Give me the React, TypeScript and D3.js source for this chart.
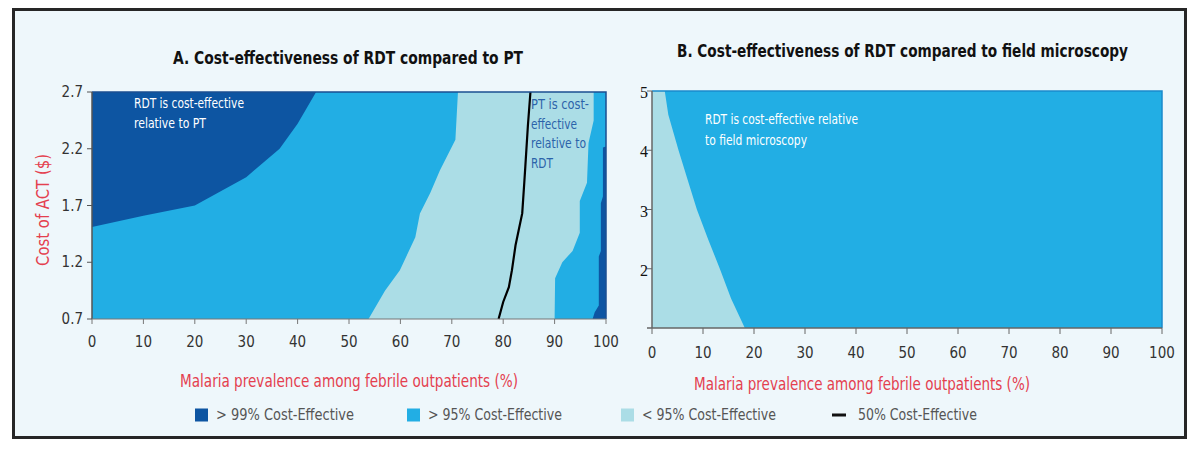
import React from 'react';
import * as d3 from 'd3';

// ---------- data ----------
const prevalenceTicks = [0, 10, 20, 30, 40, 50, 60, 70, 80, 90, 100];
const costTicksA = [0.7, 1.2, 1.7, 2.2, 2.7];
const costTicksB = [2, 3, 4, 5];
const costDomainA: [number, number] = [0.7, 2.7];
const costDomainB: [number, number] = [1, 5];

// Panel A region boundaries: [prevalence %, cost of ACT $]
const darkTopLeftEdge: [number, number][] = [
  [0, 1.51], [10, 1.61], [20, 1.7], [30, 1.95], [36.5, 2.2], [40, 2.42], [43.6, 2.7],
];
const lightLeftEdge: [number, number][] = [
  [53.8, 0.7], [57, 0.95], [59.9, 1.13], [62.9, 1.42], [63.8, 1.63], [65.8, 1.81],
  [67.7, 2.01], [70.7, 2.28], [71.2, 2.7],
];
const lightRightEdge: [number, number][] = [
  [90, 0.7], [90.1, 1.06], [91.5, 1.2], [93.5, 1.3], [94.9, 1.46], [94.9, 1.74],
  [96.3, 1.9], [96.6, 2.25], [97.6, 2.45], [97.6, 2.7],
];
const darkRightEdge: [number, number][] = [
  [97.4, 0.7], [97.8, 0.76], [98.6, 0.82], [98.6, 1.25], [99, 1.3], [99, 1.72],
  [99.4, 1.78], [99.4, 2.21], [100, 2.22],
];
const fiftyPctLine: [number, number][] = [
  [79.1, 0.7], [80, 0.85], [81.1, 0.98], [81.7, 1.13], [82.4, 1.35], [83, 1.48],
  [83.7, 1.63], [84.1, 1.9], [84.3, 2.04], [84.8, 2.4], [85.3, 2.7],
];
// Panel B boundary: [prevalence %, cost $]
const lightEdgeB: [number, number][] = [
  [18.2, 1], [15.5, 1.5], [13.3, 2], [11, 2.5], [8.8, 3], [7, 3.5], [5.2, 4], [3.2, 4.6], [2.5, 5],
];

const legendLabels = ['> 99% Cost-Effective', '> 95% Cost-Effective', '< 95% Cost-Effective', '50% Cost-Effective'];

// ---------- style ----------
const DARK = '#0d55a2';
const MID = '#22aee4';
const LIGHT = '#abdde6';
const RED = '#e4404f';
const NARROW = '"Liberation Sans Narrow", "DejaVu Sans Condensed", "Open Sans", sans-serif';

export default function App() {
  const xA = d3.scaleLinear().domain([0, 100]).range([92, 606]);
  const yA = d3.scaleLinear().domain(costDomainA).range([319, 92]);
  const xB = d3.scaleLinear().domain([0, 100]).range([652, 1162]);
  const yB = d3.scaleLinear().domain(costDomainB).range([328, 91]);

  const lineA = d3.line<[number, number]>().x((d) => xA(d[0])).y((d) => yA(d[1]));
  const lineB = d3.line<[number, number]>().x((d) => xB(d[0])).y((d) => yB(d[1]));

  const [a0, a1] = costDomainA;
  const [b0, b1] = costDomainB;

  const darkTL = lineA([...darkTopLeftEdge, [0, a1]]) + 'Z';
  const lightA = lineA([...lightLeftEdge, ...[...lightRightEdge].reverse()]) + 'Z';
  const darkR = lineA([...darkRightEdge, [100, a0]]) + 'Z';
  const fifty = lineA(fiftyPctLine);
  const lightB = lineB([[0, b0], ...lightEdgeB, [0, b1]]) + 'Z';

  const legendX = [195, 407, 621, 832];
  const legendColors = [DARK, MID, LIGHT];
  const legendLen = [138, 134, 134, 119];

  return (
    <svg
      width={1200}
      height={456}
      style={{ position: 'absolute', left: 0, top: 0, background: '#fff' }}
      fontFamily={NARROW}
    >
      <rect x={13.5} y={9.5} width={1172} height={428} fill="#eef7fb" stroke="#262626" strokeWidth={3} />

      {/* Titles */}
      <text x={173} y={64} fontSize={17} fontWeight="bold" fill="#111" textLength={350} lengthAdjust="spacingAndGlyphs">
        A. Cost-effectiveness of RDT compared to PT
      </text>
      <text x={677} y={57} fontSize={17} fontWeight="bold" fill="#111" textLength={451} lengthAdjust="spacingAndGlyphs">
        B. Cost-effectiveness of RDT compared to field microscopy
      </text>

      {/* Panel A */}
      <rect x={xA(0)} y={yA(a1)} width={xA(100) - xA(0)} height={yA(a0) - yA(a1)} fill={MID} />
      <path d={darkTL} fill={DARK} />
      <path d={lightA} fill={LIGHT} />
      <path d={darkR} fill={DARK} />
      <path d={fifty ?? ''} fill="none" stroke="#000" strokeWidth={2.2} />
      <path
        d={`M${xA(0)},${yA(a1)}H${xA(100)}V${yA(a0)}`}
        fill="none"
        stroke="#1b4f91"
        strokeWidth={1.5}
      />
      <line x1={xA(0)} x2={xA(0)} y1={yA(a1)} y2={yA(a0)} stroke="#555" strokeWidth={1.5} />
      <line x1={xA(0)} x2={xA(100)} y1={yA(a0)} y2={yA(a0)} stroke="#777" strokeWidth={1.2} />
      {prevalenceTicks.map((t) => (
        <g key={'ax' + t}>
          <line x1={xA(t)} x2={xA(t)} y1={yA(a0)} y2={yA(a0) + 5} stroke="#777" />
          <text x={xA(t)} y={347} fontSize={15} textAnchor="middle" fill="#333">{t}</text>
        </g>
      ))}
      {costTicksA.map((t) => (
        <g key={'ay' + t}>
          <line x1={xA(0) - 5} x2={xA(0)} y1={yA(t)} y2={yA(t)} stroke="#555" />
          <text x={83} y={yA(t) + 5} fontSize={15} textAnchor="end" fill="#333">{t.toFixed(1)}</text>
        </g>
      ))}
      <text
        transform="translate(49,210) rotate(-90)"
        fontSize={17}
        textAnchor="middle"
        fill={RED}
        textLength={112}
        lengthAdjust="spacingAndGlyphs"
      >
        Cost of ACT ($)
      </text>
      <text x={180} y={387} fontSize={17} fill={RED} textLength={338} lengthAdjust="spacingAndGlyphs">
        Malaria prevalence among febrile outpatients (%)
      </text>
      <text x={134} y={108} fontSize={14} fill="#fff" textLength={110} lengthAdjust="spacingAndGlyphs">RDT is cost-effective</text>
      <text x={134} y={128} fontSize={14} fill="#fff" textLength={72} lengthAdjust="spacingAndGlyphs">relative to PT</text>
      <g fill="#2b63aa" fontSize={14}>
        <text x={531} y={109} textLength={58} lengthAdjust="spacingAndGlyphs">PT is cost-</text>
        <text x={531} y={129} textLength={46} lengthAdjust="spacingAndGlyphs">effective</text>
        <text x={531} y={148} textLength={55} lengthAdjust="spacingAndGlyphs">relative to</text>
        <text x={531} y={168} textLength={22} lengthAdjust="spacingAndGlyphs">RDT</text>
      </g>

      {/* Panel B */}
      <rect x={xB(0)} y={yB(b1)} width={xB(100) - xB(0)} height={yB(b0) - yB(b1)} fill={MID} />
      <path d={lightB} fill={LIGHT} />
      <path
        d={`M${xB(0)},${yB(b1)}H${xB(100)}V${yB(b0)}`}
        fill="none"
        stroke="#1a8bcc"
        strokeWidth={1.5}
      />
      <line x1={xB(0)} x2={xB(0)} y1={yB(b1)} y2={yB(b0)} stroke="#666" strokeWidth={1.5} />
      <line x1={xB(0) - 5} x2={xB(100)} y1={yB(b0)} y2={yB(b0)} stroke="#666" strokeWidth={1.5} />
      {prevalenceTicks.map((t) => (
        <g key={'bx' + t}>
          <line x1={xB(t)} x2={xB(t)} y1={yB(b0)} y2={yB(b0) + 6} stroke="#666" />
          <text x={xB(t)} y={358} fontSize={15} textAnchor="middle" fill="#333">{t}</text>
        </g>
      ))}
      {costTicksB.map((t) => (
        <g key={'by' + t}>
          <line x1={xB(0) - 5} x2={xB(0)} y1={yB(t)} y2={yB(t)} stroke="#666" />
          <text x={640} y={yB(t) + 7} fontSize={16} fill="#111" fontFamily='"Liberation Serif", serif'>{t}</text>
        </g>
      ))}
      <text x={694} y={390} fontSize={17} fill={RED} textLength={336} lengthAdjust="spacingAndGlyphs">
        Malaria prevalence among febrile outpatients (%)
      </text>
      <text x={705} y={124} fontSize={14} fill="#fff" textLength={153} lengthAdjust="spacingAndGlyphs">RDT is cost-effective relative</text>
      <text x={705} y={145} fontSize={14} fill="#fff" textLength={102} lengthAdjust="spacingAndGlyphs">to field microscopy</text>

      {/* Legend */}
      {legendLabels.map((lab, i) => (
        <g key={lab}>
          {i < 3 ? (
            <rect x={legendX[i]} y={408.5} width={13} height={13} fill={legendColors[i]} />
          ) : (
            <line x1={legendX[i]} x2={legendX[i] + 14} y1={415} y2={415} stroke="#111" strokeWidth={3} />
          )}
          <text
            x={legendX[i] + (i < 3 ? 21 : 26)}
            y={420}
            fontSize={15}
            fill="#555"
            textLength={legendLen[i]}
            lengthAdjust="spacingAndGlyphs"
          >
            {lab}
          </text>
        </g>
      ))}
    </svg>
  );
}
